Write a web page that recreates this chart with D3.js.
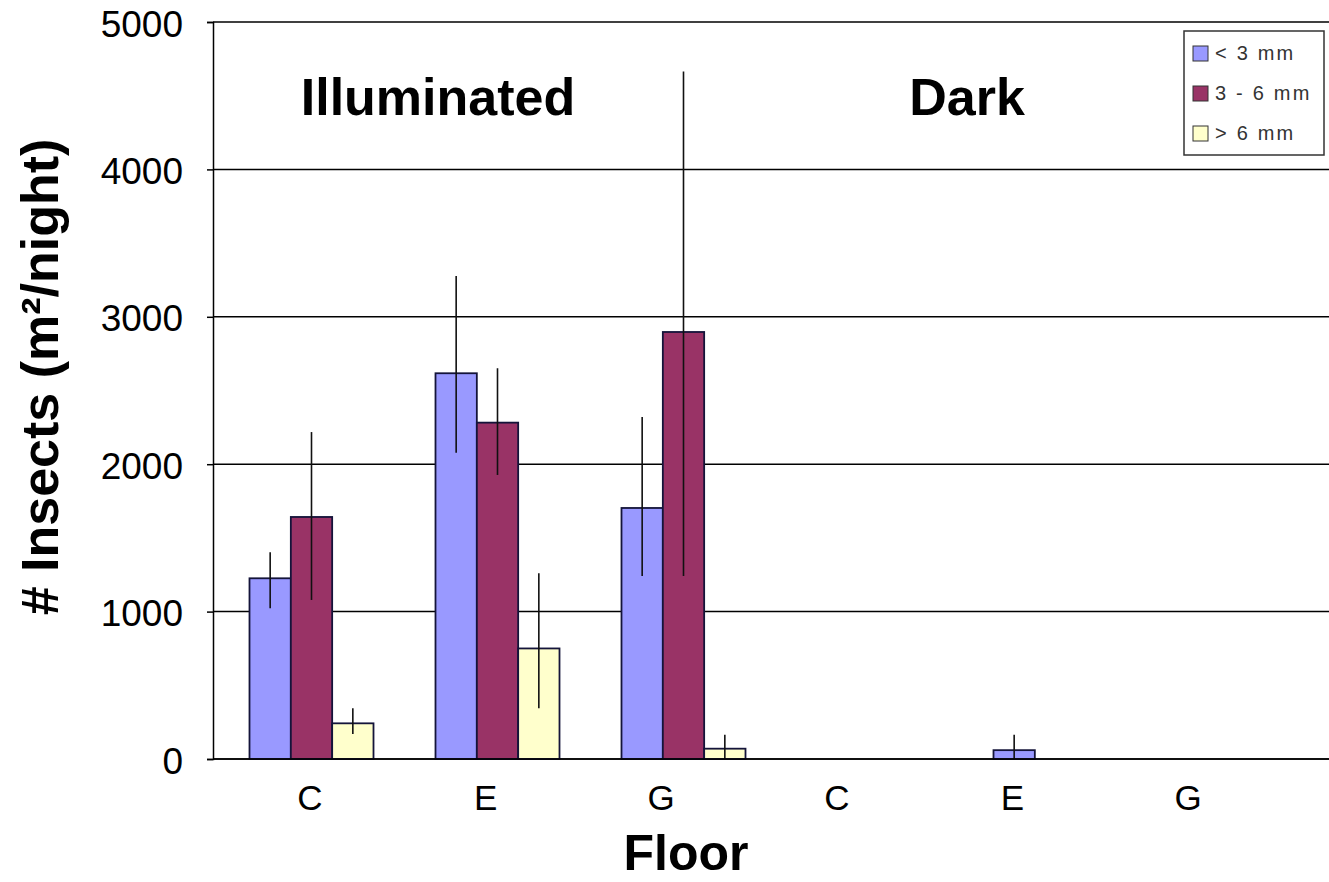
<!DOCTYPE html>
<html>
<head>
<meta charset="utf-8">
<script src="https://cdn.jsdelivr.net/npm/d3@7"></script>
<style>
  html, body { margin: 0; padding: 0; background: #fff; }
  svg { display: block; font-family: "Liberation Sans", Arial, sans-serif; }
</style>
</head>
<body>
<svg id="chart" width="1329" height="882"></svg>
<script>
// Floors, grouped by lighting condition
const conditions = ["Illuminated", "Illuminated", "Illuminated", "Dark", "Dark", "Dark"];
const floors = ["C", "E", "G", "C", "E", "G"];
const seriesNames = ["< 3 mm", "3 - 6 mm", "> 6 mm"];
const seriesColors = ["#9999FF", "#993366", "#FFFFCC"];

// Mean insects per m² per night, by body size class
const small = [1226, 2617, 1703, 0, 60, 0];
const medium = [1642, 2282, 2897, 0, 0, 0];
const large = [242, 750, 70, 0, 0, 0];

// Error bar extents (lower / upper)
const smallLo = [1022, 2078, 1242, null, 0, null];
const smallHi = [1402, 3277, 2320, null, 165, null];
const mediumLo = [1079, 1927, 1242, null, null, null];
const mediumHi = [2218, 2651, 4664, null, null, null];
const largeLo = [170, 344, 0, null, null, null];
const largeHi = [344, 1260, 165, null, null, null];

const yTicks = [0, 1000, 2000, 3000, 4000, 5000];

const svg = d3.select("#chart");
const keys = floors.map((f, i) => conditions[i] + "-" + f);

const plot = { left: 213, right: 1329, top: 22, bottom: 759 };

const y = d3.scaleLinear().domain([0, 5000]).range([plot.bottom, plot.top]);

// Bar groups
const xBars = d3.scaleBand().domain(keys).range([218.5, 1334.5])
  .paddingInner(1 / 3).paddingOuter(1 / 6);
const xSeries = d3.scaleBand().domain(seriesNames).range([0, xBars.bandwidth()]);
// Category labels
const xLabels = d3.scaleBand().domain(keys).range([222.2, 1275.8]);

// Gridlines
svg.append("g").selectAll("line").data(yTicks).join("line")
  .attr("x1", plot.left).attr("x2", plot.right)
  .attr("y1", d => y(d)).attr("y2", d => y(d))
  .attr("stroke", "#000").attr("stroke-width", 1.5);

// Y axis
const yAxis = svg.append("g").attr("transform", `translate(${plot.left},0)`)
  .call(d3.axisLeft(y).tickValues(yTicks).tickSize(6).tickPadding(24).tickFormat(d3.format("d")));
yAxis.select(".domain").attr("stroke", "#000").attr("stroke-width", 1.5);
yAxis.selectAll(".tick line").attr("stroke", "#000").attr("stroke-width", 1.5);
yAxis.selectAll(".tick text")
  .attr("font-size", 37).attr("font-family", "Liberation Sans, Arial, sans-serif")
  .attr("fill", "#000").attr("dy", "0.38em");

// Bars
const values = [small, medium, large];
const los = [smallLo, mediumLo, largeLo];
const his = [smallHi, mediumHi, largeHi];

const barData = [];
keys.forEach((k, i) => {
  seriesNames.forEach((s, j) => {
    barData.push({ key: k, series: s, color: seriesColors[j],
      value: values[j][i], lo: los[j][i], hi: his[j][i] });
  });
});

const bars = svg.append("g");
bars.selectAll("rect").data(barData.filter(d => d.value > 0)).join("rect")
  .attr("x", d => xBars(d.key) + xSeries(d.series))
  .attr("width", xSeries.bandwidth())
  .attr("y", d => y(d.value))
  .attr("height", d => y(0) - y(d.value))
  .attr("fill", d => d.color)
  .attr("stroke", "#14143a").attr("stroke-width", 1.8);

// Error bars
svg.append("g").selectAll("line").data(barData.filter(d => d.hi != null)).join("line")
  .attr("x1", d => xBars(d.key) + xSeries(d.series) + xSeries.bandwidth() / 2)
  .attr("x2", d => xBars(d.key) + xSeries(d.series) + xSeries.bandwidth() / 2)
  .attr("y1", d => y(d.lo)).attr("y2", d => y(d.hi))
  .attr("stroke", "#111").attr("stroke-width", 1.6);

// X axis baseline
svg.append("line")
  .attr("x1", plot.left).attr("x2", plot.right)
  .attr("y1", y(0)).attr("y2", y(0))
  .attr("stroke", "#000").attr("stroke-width", 1.5);

// Category labels
svg.append("g").selectAll("text").data(keys).join("text")
  .attr("x", d => xLabels(d) + xLabels.bandwidth() / 2)
  .attr("y", 810)
  .attr("text-anchor", "middle")
  .attr("font-size", 35)
  .text((d, i) => floors[i]);

// Condition headers
const headers = [
  { text: "Illuminated", x: 438 },
  { text: "Dark", x: 967 }
];
svg.append("g").selectAll("text").data(headers).join("text")
  .attr("x", d => d.x).attr("y", 115)
  .attr("text-anchor", "middle")
  .attr("font-size", 52).attr("font-weight", "bold")
  .text(d => d.text);

// Axis titles
svg.append("text")
  .attr("x", 686).attr("y", 870)
  .attr("text-anchor", "middle")
  .attr("font-size", 50).attr("font-weight", "bold")
  .text("Floor");

svg.append("text")
  .attr("transform", "translate(58,377) rotate(-90)")
  .attr("text-anchor", "middle")
  .attr("font-size", 52).attr("font-weight", "bold")
  .text("# Insects (m²/night)");

// Legend
const legend = svg.append("g").attr("transform", "translate(1184,31)");
legend.append("rect")
  .attr("width", 140).attr("height", 124)
  .attr("fill", "#fff").attr("stroke", "#333").attr("stroke-width", 1.5);
const items = legend.selectAll("g.item").data(seriesNames).join("g")
  .attr("class", "item")
  .attr("transform", (d, i) => `translate(9,${22 + i * 40})`);
items.append("rect")
  .attr("x", 0).attr("y", -7).attr("width", 15).attr("height", 15)
  .attr("fill", (d, i) => seriesColors[i])
  .attr("stroke", "#333").attr("stroke-width", 1);
items.append("text")
  .attr("x", 22).attr("y", 7)
  .attr("font-size", 20).attr("letter-spacing", 2.2)
  .attr("fill", "#333")
  .text(d => d);
</script>
</body>
</html>
